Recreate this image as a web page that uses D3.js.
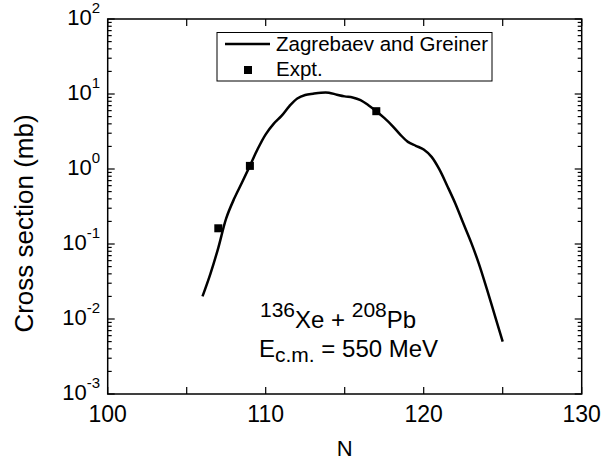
<!DOCTYPE html>
<html><head><meta charset="utf-8">
<script src="https://cdn.jsdelivr.net/npm/d3@7"></script>
<style>body{margin:0;background:#fff}svg{display:block}text{font-family:"Liberation Sans",Arial,sans-serif;fill:#000}</style>
</head><body><svg id="c" width="602" height="464"></svg>
<script>
const curveN = [106,106.5,107,107.5,108,108.5,109,109.5,110,110.5,111,111.5,112,112.5,113,113.5,114,114.5,115,115.5,116,116.5,117,117.5,118,118.5,119,119.5,120,120.5,121,121.5,122,122.5,123,123.5,124,124.5,125];
const curveSigma = [0.020,0.040,0.089,0.22,0.40,0.66,1.10,1.86,2.9,4.0,5.1,6.9,8.7,9.7,10.1,10.4,10.4,9.8,9.3,9.0,8.3,7.1,5.9,4.8,3.8,2.9,2.3,2.04,1.82,1.45,0.98,0.59,0.347,0.19,0.105,0.054,0.025,0.0112,0.005];
const exptN = [107,109,117];
const exptSigma = [0.162,1.1,5.9];
const xTicks = [100,110,120,130];
const yTicks = [1e-3,1e-2,1e-1,1,10,100];
const yExp = ["-3","-2","-1","0","1","2"];
const legendLabels = ["Zagrebaev and Greiner","Expt."];

const svg = d3.select("#c");
const L=107.7,R=581.7,T=19,B=394;
const x = d3.scaleLinear().domain([100,130]).range([L,R]);
const y = d3.scaleLog().domain([1e-3,100]).range([B,T]);

const g = svg.append("g");
const xAll = d3.range(100,131,5);
const yMinor = [];
for (let e=-3;e<2;e++) for (let m=2;m<10;m++) yMinor.push(m*Math.pow(10,e));
const t = g.append("g").attr("stroke","#000").attr("stroke-width",1.2);
xAll.forEach(v=>{
  t.append("line").attr("x1",x(v)).attr("x2",x(v)).attr("y1",B).attr("y2",B-7);
  t.append("line").attr("x1",x(v)).attr("x2",x(v)).attr("y1",T).attr("y2",T+7);
});
yTicks.forEach(v=>{
  t.append("line").attr("x1",L).attr("x2",L+7).attr("y1",y(v)).attr("y2",y(v));
  t.append("line").attr("x1",R).attr("x2",R-7).attr("y1",y(v)).attr("y2",y(v));
});
yMinor.forEach(v=>{
  t.append("line").attr("x1",L).attr("x2",L+4).attr("y1",y(v)).attr("y2",y(v));
  t.append("line").attr("x1",R).attr("x2",R-4).attr("y1",y(v)).attr("y2",y(v));
});
g.append("rect").attr("x",L).attr("y",T).attr("width",R-L).attr("height",B-T)
  .attr("fill","none").attr("stroke","#000").attr("stroke-width",1.5);

xTicks.forEach(v=>{
  g.append("text").attr("x",x(v)).attr("y",B+28).attr("text-anchor","middle")
   .attr("font-size",23).text(v);
});
yTicks.forEach((v,i)=>{
  const tx = g.append("text").attr("x",100).attr("y",y(v)+6).attr("text-anchor","end").attr("font-size",22);
  tx.append("tspan").text("10");
  tx.append("tspan").attr("font-size",15).attr("dy",-12).text(yExp[i]);
});
svg.append("text").attr("x",(L+R)/2).attr("y",456).attr("text-anchor","middle").attr("font-size",22).text("N");
svg.append("text").attr("transform",`translate(33,${(T+B)/2+17}) rotate(-90)`).attr("text-anchor","middle")
  .attr("font-size",26).text("Cross section (mb)");

const line = d3.line().x((d,i)=>x(curveN[i])).y(d=>y(d)).curve(d3.curveCatmullRom);
g.append("path").datum(curveSigma).attr("d",line).attr("fill","none").attr("stroke","#000").attr("stroke-width",2.5);
g.selectAll("rect.pt").data(exptSigma).enter().append("rect")
  .attr("x",(d,i)=>x(exptN[i])-4).attr("y",d=>y(d)-4).attr("width",8).attr("height",8).attr("fill","#000");

const lg = svg.append("g");
lg.append("rect").attr("x",217).attr("y",32.5).attr("width",275).attr("height",48.5)
  .attr("fill","#fff").attr("stroke","#000").attr("stroke-width",1);
lg.append("line").attr("x1",225).attr("x2",270).attr("y1",44).attr("y2",44).attr("stroke","#000").attr("stroke-width",2.5);
lg.append("text").attr("x",276).attr("y",51).attr("font-size",20.5).text(legendLabels[0]);
lg.append("rect").attr("x",244).attr("y",66).attr("width",8).attr("height",8).attr("fill","#000");
lg.append("text").attr("x",276).attr("y",76).attr("font-size",20.5).text(legendLabels[1]);

const a1 = svg.append("text").attr("x",260).attr("y",328).attr("font-size",24);
a1.append("tspan").attr("font-size",21).attr("dy",-11).text("136");
a1.append("tspan").attr("dy",11).text("Xe + ");
a1.append("tspan").attr("font-size",21).attr("dy",-11).text("208");
a1.append("tspan").attr("dy",11).text("Pb");
const a2 = svg.append("text").attr("x",259).attr("y",357).attr("font-size",24);
a2.append("tspan").text("E");
a2.append("tspan").attr("font-size",21).attr("dy",5).text("c.m.");
a2.append("tspan").attr("dy",-5).text(" = 550 MeV");
</script></body></html>
